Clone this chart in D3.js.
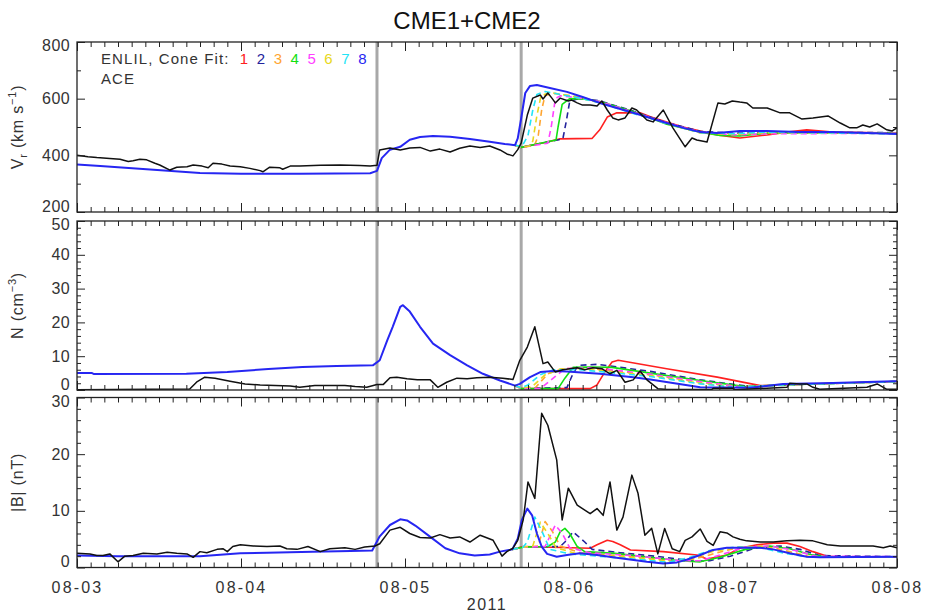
<!DOCTYPE html>
<html><head><meta charset="utf-8">
<script src="https://cdn.jsdelivr.net/npm/d3@7"></script>
<style>body{margin:0;background:#fff}svg{display:block}</style>
</head><body>
<svg id="chart" width="929" height="613"></svg>
<script>
// ---- DATA (time in hours since 2011-08-03 00:00 UT) ----
const title = "CME1+CME2";
const dayTicks = ["08-03","08-04","08-05","08-06","08-07","08-08"];
const shockTimes = [43.9, 65.0];
const fitNames = ["1","2","3","4","5","6","7","8"];
const fitColors = ["#ff2020","#23239c","#ffa530","#12e012","#ff40ff","#e8d820","#22e4f6","#2626f2"];
const fitDashed = [false,true,true,false,true,true,true,false];

const vrAce = [[0,400],[1.6,395],[2.9,392],[4.8,389],[6.3,386],[7.5,378],[8.2,381],[9.2,386],[10.2,384],[11.4,372],[12.1,366],[13.6,348],[14.6,358],[16.1,360],[17.0,366],[18.3,362],[19.2,356],[19.9,372],[21.2,369],[22.4,362],[23.9,360],[25.3,354],[26.8,346],[27.2,342],[28.2,358],[29.7,356],[30.1,351],[31.2,362],[32.6,362],[35.6,365],[38.5,366],[41.4,364],[42.9,362],[43.9,365],[44.3,419],[45.8,426],[47.3,419],[48.7,426],[50.2,428],[51.7,415],[53.1,422],[54.6,412],[56.0,425],[57.5,433],[59.0,428],[60.4,433],[61.9,419],[62.9,405],[63.8,398],[64.5,420],[65.0,443],[65.9,542],[66.7,602],[67.8,613],[68.2,599],[68.9,620],[69.5,602],[70.0,585],[70.7,602],[71.9,592],[72.4,595],[73.2,585],[73.9,578],[75.1,578],[76.1,574],[76.8,592],[77.6,560],[78.4,532],[79.2,525],[80.2,532],[81.2,567],[81.9,560],[83.4,525],[84.3,518],[85.8,560],[87.2,497],[89.0,430],[90.0,461],[90.7,454],[92.2,447],[93.8,585],[94.8,581],[95.9,592],[97.0,588],[98.0,585],[98.9,567],[101.0,567],[102.9,550],[104.3,550],[106.1,528],[107.7,532],[109.9,539],[111.7,514],[113.1,497],[114.1,497],[115.0,507],[116.0,500],[117.1,511],[118.5,490],[119.3,486],[120,497]];
const vrFit1 = [[64.1,436],[65.0,428],[68.5,445],[70.7,458],[75.4,460],[76.5,490],[77.6,535],[79.0,550],[82.4,550],[83.9,536],[86.3,518],[88.7,500],[91.2,486],[93.7,472],[97.0,461],[101.0,472],[103.9,482],[106.8,490],[110.6,482],[120,479]];
const vrFit2 = [[64.1,436],[65.0,428],[71.1,458],[71.6,520],[72.1,590],[73.6,602],[76.5,592],[81.4,556],[86.3,515],[91.2,485],[96.0,478],[101,480],[120,480]];
const vrFit3 = [[64.1,436],[65.0,428],[67.0,438],[67.5,470],[68.0,560],[68.5,612],[70.0,618],[73.6,606],[76.5,588],[81.4,552],[86.3,514],[91.2,480],[96.0,472],[101.0,478],[120,478]];
const vrFit4 = [[64.1,436],[65.0,428],[70.1,454],[70.4,500],[71.0,580],[72.1,600],[74.3,598],[76.5,590],[81.4,555],[86.3,510],[91.2,482],[94.1,470],[97.0,468],[101.0,478],[105.8,480],[120,478]];
const vrFit5 = [[64.1,436],[65.0,428],[68.9,443],[69.4,500],[70.0,600],[70.7,610],[72.9,605],[76.5,590],[81.4,553],[86.3,515],[91.2,482],[96.0,472],[101.0,476],[120,478]];
const vrFit6 = [[64.1,436],[65.0,428],[66.3,433],[66.7,450],[67.3,540],[67.9,610],[69.2,622],[72.1,610],[76.5,586],[81.4,550],[86.3,512],[91.2,479],[96.0,474],[101.0,480],[120,477]];
const vrFit7 = [[64.1,436],[65.1,430],[66.0,470],[66.7,560],[67.3,615],[68.5,625],[70.7,615],[74.0,600],[76.5,585],[81.4,548],[86.3,512],[91.2,480],[96.0,476],[101.0,482],[105.8,480],[120,476]];
const vrFit8 = [[0,368],[3.4,362],[10.7,350],[18,338],[24,335],[32.6,335],[42.9,337],[43.9,345],[44.6,390],[45.8,420],[47.3,430],[48.7,455],[50.2,465],[52.1,468],[54.6,466],[57.5,458],[60.4,448],[62.6,440],[64.1,436],[64.5,460],[65.0,530],[65.6,620],[66.3,645],[67.3,648],[69.2,638],[71.7,624],[74.0,606],[76.5,585],[79.0,567],[81.4,550],[83.9,532],[86.3,514],[88.7,497],[91.2,482],[93.7,479],[97.0,486],[101.0,486],[105.8,482],[110.6,482],[115.6,479],[120,475]];

const nAce = [[0,0.1],[16.5,0.3],[17.6,2.5],[18.7,3.8],[20.2,3.5],[22.4,2.6],[24.6,1.8],[26.8,1.5],[31.2,1.2],[32.6,0.8],[34.8,1.3],[37.0,1.3],[39.2,1.3],[40.7,1.0],[42.4,0.8],[43.9,1.6],[44.8,1.6],[45.8,3.6],[46.8,3.8],[48.3,3.3],[49.8,3.0],[51.7,3.0],[52.8,0.8],[54.1,2.3],[55.6,3.5],[57.1,3.3],[58.5,3.6],[60.4,3.8],[62.3,3.5],[63.8,3.1],[64.8,8.8],[65.9,12.7],[67.0,18.7],[68.2,7.8],[68.9,8.3],[70.0,5.3],[71.1,6.0],[72.1,6.3],[73.2,6.6],[74.3,6.0],[75.5,6.6],[76.8,6.3],[78.0,4.8],[79.0,5.8],[80.2,2.3],[81.4,3.0],[82.4,5.6],[83.4,3.0],[85.0,0.4],[86.3,0.15],[92.9,0.2],[93.1,0.5],[96.0,0.5],[96.3,0.1],[103.9,0.8],[104.3,2.0],[105.8,1.8],[106.8,1.8],[107.7,0.8],[108.7,0.2],[115.6,0.8],[117.1,1.8],[118.0,0.8],[118.5,0.2],[120,0.2]];
const nFit1 = [[64.1,1.3],[65.0,0.4],[75.1,0.4],[76.1,1.5],[77.3,5.5],[78.3,8.3],[79.2,8.8],[86.3,6.3],[93.7,3.8],[100.0,1.3],[103.3,1.5],[110.6,2.0],[120,2.5]];
const nFit2 = [[64.1,1.3],[65.0,0.5],[71.7,0.7],[72.4,4.0],[73.3,7.3],[76.2,7.6],[83.9,5.5],[91.2,3.0],[98.5,1.0],[103.3,1.5],[120,2.5]];
const nFit3 = [[64.1,1.3],[65.0,0.5],[67.0,0.5],[68.9,4.8],[71.1,6.3],[75.1,6.4],[83.9,4.5],[91.2,2.3],[97.0,0.9],[103.3,1.5],[120,2.5]];
const nFit4 = [[64.1,1.3],[65.0,0.4],[70.4,0.4],[71.4,3.5],[72.6,6.7],[75.1,6.8],[78.3,6.7],[83.9,5.0],[91.2,2.8],[97.8,1.0],[103.3,1.5],[120,2.5]];
const nFit5 = [[64.1,1.3],[65.0,0.4],[67.8,0.4],[70.0,4.0],[71.4,6.3],[75.4,6.6],[83.9,4.7],[91.2,2.5],[97.3,0.9],[103.3,1.5],[120,2.5]];
const nFit6 = [[64.1,1.3],[65.0,0.5],[66.6,1.0],[68.5,4.5],[70.7,6.2],[74.3,6.2],[83.9,4.3],[91.2,2.0],[96.7,0.8],[103.3,1.5],[120,2.5]];
const nFit7 = [[64.1,1.3],[65.0,0.6],[66.0,1.5],[67.8,4.5],[69.7,6.0],[73.6,6.0],[83.9,4.0],[91.2,1.8],[96.3,0.8],[103.3,1.5],[120,2.5]];
const nFit8 = [[0,5.0],[2.2,5.0],[2.5,4.7],[16,4.8],[22,5.3],[28,6.2],[33,6.8],[38,7.1],[43.3,7.3],[44.3,8.8],[45.4,14.7],[46.2,18.7],[47.3,24.6],[47.7,25.1],[48.7,23.2],[50.2,18.7],[52.1,13.7],[54.6,10.3],[57.1,7.3],[59.4,4.8],[61.9,2.8],[64.1,1.3],[64.8,1.8],[66.3,3.8],[67.8,5.3],[69.7,5.6],[71.7,5.5],[76.5,4.8],[81.4,3.8],[83.9,3.1],[91.2,0.8],[98.5,0.65],[103.3,1.8],[110.6,2.1],[119.4,2.6],[120,2.6]];

const bAce = [[0,2.5],[1.9,2.4],[2.9,2.1],[3.8,2.1],[4.8,2.4],[6.0,1.0],[7.0,2.0],[8.2,2.1],[9.7,2.5],[11.7,2.4],[13.2,2.7],[14.6,2.5],[16.1,2.4],[17.0,1.8],[18.0,2.8],[19.0,2.6],[20.5,3.2],[21.4,3.3],[22.0,2.8],[22.8,3.7],[23.9,4.0],[25.8,3.8],[27.8,3.7],[29.7,3.8],[30.7,3.3],[32.2,3.2],[33.8,3.7],[35.6,2.8],[37.0,3.3],[39.2,3.5],[40.7,3.2],[42.1,3.6],[43.6,3.8],[44.3,4.2],[45.8,6.6],[47.3,7.1],[48.7,6.0],[50.2,5.3],[51.7,5.2],[53.1,5.8],[54.6,5.2],[56.0,5.4],[57.5,4.5],[59.0,5.7],[60.9,4.8],[62.2,2.0],[62.9,2.8],[63.8,3.4],[64.5,4.8],[65.3,8.4],[66.0,15.1],[67.0,12.2],[68.0,27.2],[68.9,25.1],[70.2,19.0],[71.0,8.4],[71.9,14.0],[73.2,11.0],[75.1,9.5],[76.1,10.4],[77.0,9.2],[78.0,15.1],[79.0,6.6],[79.9,8.9],[81.2,16.3],[82.1,13.1],[83.1,5.7],[84.1,6.9],[85.0,2.4],[86.0,6.9],[87.1,3.3],[88.2,2.8],[89.0,4.8],[90.0,5.4],[91.2,6.8],[92.2,4.6],[93.1,3.9],[94.1,6.3],[95.1,6.1],[96.0,5.4],[97.0,5.0],[98.0,4.7],[100.0,4.5],[101.9,4.5],[103.9,4.7],[105.8,4.8],[107.7,4.7],[109.8,4.0],[111.7,3.8],[114.1,3.8],[116.5,3.8],[118.0,3.5],[119.0,3.8],[120,3.5]];
const bFit1 = [[63.7,3.2],[65.3,3.7],[75.1,3.4],[76.1,4.0],[77.6,4.8],[78.4,4.6],[79.5,4.0],[81.0,3.1],[85.8,2.8],[90.7,2.2],[92.2,1.5],[95.1,2.2],[97.0,3.4],[99.5,4.0],[101.9,4.3],[103.9,4.3],[105.8,3.7],[107.7,2.8],[109.8,2.0],[111.7,1.8],[120,1.9]];
const bFit2 = [[63.7,3.2],[65.3,3.6],[70.7,3.7],[71.4,4.5],[72.6,6.3],[74.3,4.5],[75.4,3.2],[79.5,2.6],[85.3,1.9],[90.4,1.1],[92.6,1.2],[95.6,2.0],[99.2,3.4],[102.9,3.8],[105.8,3.2],[108.7,2.1],[120,1.9]];
const bFit3 = [[63.7,3.2],[65.3,3.6],[67.5,3.8],[68.5,8.1],[69.5,6.5],[70.7,3.8],[73.6,2.6],[82.4,1.8],[87.5,1.1],[90.4,1.5],[93.4,2.5],[97.0,3.6],[100.7,3.8],[104.3,2.8],[107.3,1.9],[120,1.9]];
const bFit4 = [[63.7,3.2],[65.3,3.6],[68.9,3.7],[70.0,4.5],[70.7,6.3],[71.4,6.9],[72.1,6.0],[73.2,3.7],[74.3,2.8],[78.7,2.5],[83.9,1.8],[88.2,1.2],[91.2,1.0],[94.1,1.8],[97.8,3.2],[101.4,3.8],[104.3,3.3],[107.3,2.3],[109.5,1.9],[120,1.9]];
const bFit5 = [[63.7,3.2],[65.3,3.6],[68.5,3.7],[69.2,5.5],[70.0,7.5],[71.0,6.0],[72.1,3.5],[75.1,2.6],[82.4,2.0],[88.2,1.2],[91.2,1.2],[94.1,2.2],[97.8,3.6],[101.4,3.8],[105.1,3.0],[108.0,2.0],[120,1.9]];
const bFit6 = [[63.7,3.2],[65.3,3.6],[66.7,3.8],[67.8,8.0],[68.9,6.0],[70.1,3.5],[72.9,2.5],[82.4,1.6],[87.1,1.0],[90.0,1.6],[92.9,2.8],[96.7,3.6],[100.2,3.7],[103.9,2.6],[107.0,1.9],[120,1.9]];
const bFit7 = [[63.7,3.2],[65.3,3.6],[65.9,4.5],[67.0,8.9],[68.0,6.5],[69.2,3.2],[72.1,2.4],[82.4,1.4],[86.5,0.9],[89.7,1.8],[92.6,3.0],[96.3,3.6],[100.0,3.5],[103.6,2.5],[106.8,1.9],[120,1.9]];
const bFit8 = [[0,2.1],[5.9,2.0],[18.0,2.0],[23.9,2.5],[27.8,2.6],[34.5,2.8],[40.0,2.9],[43.2,3.0],[44.3,5.5],[45.8,7.5],[47.3,8.5],[48.3,8.3],[49.5,7.4],[51.7,5.4],[53.9,3.4],[56.0,2.5],[58.2,2.1],[60.4,2.3],[61.9,2.8],[63.7,3.2],[64.5,5.1],[65.1,8.4],[65.9,10.4],[66.6,9.2],[67.3,6.0],[68.0,3.7],[68.8,2.4],[70.2,1.9],[71.7,2.2],[73.6,2.5],[76.1,2.2],[78.4,1.8],[80.9,1.4],[83.4,1.0],[85.8,0.7],[87.8,0.9],[89.3,1.4],[91.2,2.2],[93.1,3.1],[95.1,3.5],[98.0,3.5],[100.0,3.5],[101.9,3.2],[104.3,2.5],[106.8,1.9],[108.7,1.8],[120,1.9]];

// ---- CHART ----
const svg = d3.select("#chart");
const L = 77, R = 897;
const t0 = Date.UTC(2011, 7, 3);
const toDate = h => new Date(t0 + h * 3600e3);
const x = d3.scaleUtc().domain([toDate(0), toDate(120)]).range([L, R]);
const FONT = "'Liberation Sans', Arial, Helvetica, sans-serif";
const TXT = "#333";

svg.append("text").attr("x", 467).attr("y", 29).attr("text-anchor", "middle")
  .attr("font-family", FONT).attr("font-size", 24).attr("fill", "#111").text(title);

const panels = [
  {top: 42, h: 170, domain: [200, 800], major: 200, minor: 100, ace: vrAce,
   fits: [vrFit1, vrFit2, vrFit3, vrFit4, vrFit5, vrFit6, vrFit7, vrFit8], label: "vr"},
  {top: 221, h: 169, domain: [0, 50], major: 10, minor: 2, ace: nAce,
   fits: [nFit1, nFit2, nFit3, nFit4, nFit5, nFit6, nFit7, nFit8], label: "n"},
  {top: 397.5, h: 170, domain: [0, 30], major: 10, minor: 2, ace: bAce,
   fits: [bFit1, bFit2, bFit3, bFit4, bFit5, bFit6, bFit7, bFit8], label: "b"}
];

const dayDates = d3.range(0, 121, 24).map(toDate);
const minorDates = d3.range(0, 121, 2).filter(h => h % 24 !== 0).map(toDate);

panels.forEach((p, pi) => {
  const y = d3.scaleLinear().domain(p.domain).range([p.top + p.h, p.top]);
  const g = svg.append("g");
  const clipId = "clip" + pi;
  svg.append("clipPath").attr("id", clipId).append("rect")
    .attr("x", L).attr("y", p.top).attr("width", R - L).attr("height", p.h);

  g.selectAll("line.shock").data(shockTimes).join("line").attr("class", "shock")
    .attr("x1", d => x(toDate(d))).attr("x2", d => x(toDate(d)))
    .attr("y1", p.top).attr("y2", p.top + p.h)
    .attr("stroke", "#a8a8a8").attr("stroke-width", 3);

  const line = d3.line().x(d => x(toDate(d[0]))).y(d => y(d[1]));
  const lg = g.append("g").attr("clip-path", `url(#${clipId})`);
  p.fits.forEach((s, i) => {
    lg.append("path").datum(s).attr("d", line).attr("fill", "none")
      .attr("stroke", fitColors[i]).attr("stroke-width", i === 7 ? 2 : 1.6)
      .attr("stroke-dasharray", fitDashed[i] ? "6,4" : null)
      .attr("stroke-linejoin", "round");
  });
  lg.append("path").datum(p.ace).attr("d", line).attr("fill", "none")
    .attr("stroke", "#111").attr("stroke-width", 1.5).attr("stroke-linejoin", "round");

  const ax = svg.append("g").attr("font-family", FONT);
  const majorY = d3.range(p.domain[0], p.domain[1] + 0.001, p.major);
  const minorY = d3.range(p.domain[0], p.domain[1] + 0.001, p.minor).filter(v => !majorY.includes(v));
  const styleAxis = sel => { sel.select(".domain").remove(); sel.selectAll("line").attr("stroke", "#222"); };

  const yl = ax.append("g").attr("transform", `translate(${L},0)`)
    .call(d3.axisLeft(y).tickValues(majorY).tickSize(-8).tickPadding(7).tickFormat(d3.format("d")))
    .call(styleAxis);
  yl.selectAll("text").attr("font-size", 16).attr("fill", TXT).attr("font-family", FONT)
    .attr("letter-spacing", 0.4)
    .attr("dy", d => d === p.domain[0] ? "-0.05em" : d === p.domain[1] ? "0.55em" : "0.32em");
  ax.append("g").attr("transform", `translate(${L},0)`)
    .call(d3.axisLeft(y).tickValues(minorY).tickSize(-4).tickFormat(""))
    .call(styleAxis);
  ax.append("g").attr("transform", `translate(${R},0)`)
    .call(d3.axisRight(y).tickValues(majorY).tickSize(-8).tickFormat(""))
    .call(styleAxis);
  ax.append("g").attr("transform", `translate(${R},0)`)
    .call(d3.axisRight(y).tickValues(minorY).tickSize(-4).tickFormat(""))
    .call(styleAxis);

  const isBottom = pi === panels.length - 1;
  ax.append("g").attr("transform", `translate(0,${p.top + p.h})`)
    .call(d3.axisBottom(x).tickValues(dayDates).tickSize(-9).tickPadding(14)
      .tickFormat(isBottom ? ((d, i) => dayTicks[i]) : ""))
    .call(styleAxis)
    .selectAll("text").attr("font-size", 16).attr("fill", TXT).attr("font-family", FONT)
    .attr("letter-spacing", 2.2);
  ax.append("g").attr("transform", `translate(0,${p.top + p.h})`)
    .call(d3.axisBottom(x).tickValues(minorDates).tickSize(-5).tickFormat(""))
    .call(styleAxis);
  ax.append("g").attr("transform", `translate(0,${p.top})`)
    .call(d3.axisTop(x).tickValues(dayDates).tickSize(-9).tickFormat(""))
    .call(styleAxis);
  ax.append("g").attr("transform", `translate(0,${p.top})`)
    .call(d3.axisTop(x).tickValues(minorDates).tickSize(-5).tickFormat(""))
    .call(styleAxis);

  svg.append("rect").attr("x", L).attr("y", p.top).attr("width", R - L).attr("height", p.h)
    .attr("fill", "none").attr("stroke", "#222").attr("stroke-width", 1.3);

  const cy = p.top + p.h / 2;
  const t = svg.append("text").attr("transform", `translate(23,${cy}) rotate(-90)`)
    .attr("text-anchor", "middle").attr("font-family", FONT).attr("font-size", 16)
    .attr("fill", TXT).attr("letter-spacing", 0.8);
  if (p.label === "vr") {
    t.append("tspan").text("V");
    t.append("tspan").attr("font-size", 11).attr("dy", 4).text("r");
    t.append("tspan").attr("dy", -4).text(" (km s");
    t.append("tspan").attr("font-size", 11).attr("dy", -7).text("−1");
    t.append("tspan").attr("dy", 7).text(")");
  } else if (p.label === "n") {
    t.append("tspan").text("N (cm");
    t.append("tspan").attr("font-size", 11).attr("dy", -7).text("−3");
    t.append("tspan").attr("dy", 7).text(")");
  } else {
    t.text("|B| (nT)");
  }
});

svg.append("text").attr("x", 487).attr("y", 610).attr("text-anchor", "middle")
  .attr("font-family", FONT).attr("font-size", 16).attr("fill", TXT)
  .attr("letter-spacing", 1.5).text("2011");

// legend
svg.append("text").attr("x", 101).attr("y", 64).attr("font-family", FONT)
  .attr("font-size", 15).attr("fill", TXT).attr("letter-spacing", 1.1).text("ENLIL, Cone Fit:");
svg.selectAll("text.fitnum").data(fitNames).join("text").attr("class", "fitnum")
  .attr("x", (d, i) => 244 + i * 16.9).attr("y", 64).attr("text-anchor", "middle")
  .attr("font-family", FONT).attr("font-size", 15).attr("fill", (d, i) => fitColors[i]).text(d => d);
svg.append("text").attr("x", 101).attr("y", 84).attr("font-family", FONT)
  .attr("font-size", 15).attr("fill", TXT).attr("letter-spacing", 1.1).text("ACE");
</script>
</body></html>
